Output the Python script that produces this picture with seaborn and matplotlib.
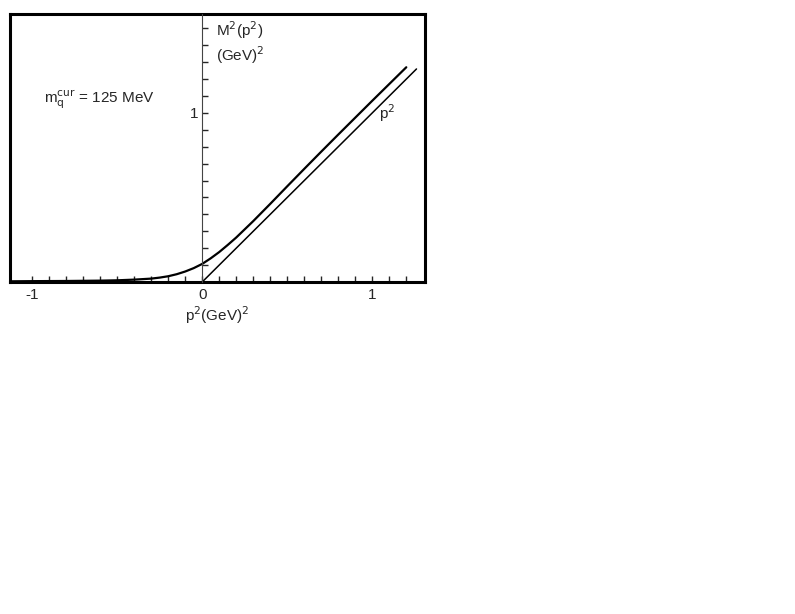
import matplotlib
matplotlib.use("Agg")
import matplotlib.pyplot as plt
import seaborn as sns
import pandas as pd
import numpy as np

# Data
p2_curve = [-1.13, -1.0, -0.8, -0.6, -0.5, -0.4, -0.3, -0.25, -0.2, -0.15, -0.1, -0.05, 0.0,
            0.05, 0.1, 0.15, 0.2, 0.3, 0.4, 0.5, 0.6, 0.7, 0.8, 0.9, 1.0, 1.1, 1.2]
M2_curve = [0.004, 0.005, 0.006, 0.008, 0.010, 0.014, 0.020, 0.026, 0.034, 0.046, 0.062, 0.082, 0.107,
            0.140, 0.177, 0.219, 0.263, 0.360, 0.462, 0.566, 0.669, 0.771, 0.872, 0.972, 1.072, 1.171, 1.27]
p2_line = [0.0, 1.26]
M2_line = [0.0, 1.26]

x_ticks = [-1, 0, 1]
x_ticklabels = ["-1", "0", "1"]

sns.set_style("white")
plt.rcParams["font.family"] = ["Liberation Sans", "DejaVu Sans"]

fig = plt.figure(figsize=(7.95, 6.14), dpi=100)
pos = [10 / 795, 1 - 282 / 614, 415 / 795, 268 / 614]
ax = fig.add_axes(pos)

df_c = pd.DataFrame({"p2": p2_curve, "M2": M2_curve})
df_l = pd.DataFrame({"p2": p2_line, "M2": M2_line})
sns.lineplot(data=df_c, x="p2", y="M2", ax=ax, color="black", lw=1.6, sort=False)
sns.lineplot(data=df_l, x="p2", y="M2", ax=ax, color="black", lw=1.1, sort=False)

xmin, xmax = -1.13, 1.31
ymin, ymax = 0.0, 1.585
ax.set_xlim(xmin, xmax)
ax.set_ylim(ymin, ymax)
for s in ax.spines.values():
    s.set_visible(True)
    s.set_color("black")
    s.set_linewidth(2.2)

ax.set_xticks(np.round(np.arange(-1.0, 1.21, 0.1), 2), minor=True)
ax.set_xticks(x_ticks)
ax.set_xticklabels(x_ticklabels)
ax.tick_params(axis="x", which="both", direction="in", length=4, width=1,
               bottom=True, top=False, labelsize=11, pad=4)
ax.set_yticks([])
ax.set_xlabel("p$^2$(GeV)$^2$", fontsize=11, labelpad=2)
ax.set_ylabel("")

# Inner y axis at p2 = 0
ax2 = fig.add_axes(pos)
ax2.set_xlim(xmin, xmax)
ax2.set_ylim(ymin, ymax)
ax2.patch.set_visible(False)
for k in ["top", "right", "bottom"]:
    ax2.spines[k].set_visible(False)
ax2.spines["left"].set_position(("data", 0))
ax2.spines["left"].set_linewidth(0.8)
ax2.spines["left"].set_color("#444444")
ax2.set_yticks(np.round(np.arange(0.1, 1.51, 0.1), 2), minor=True)
ax2.set_yticks([1])
ax2.set_yticklabels(["1"])
ax2.tick_params(axis="y", which="both", direction="in", length=4, width=1,
                left=True, labelsize=11, pad=3)
ax2.set_xticks([])
ax2.tick_params(axis="x", bottom=False, labelbottom=False)

ax2.text(0.08, 1.49, "M$^2$(p$^2$)", fontsize=11, ha="left", va="center")
ax2.text(0.08, 1.34, "(GeV)$^2$", fontsize=11, ha="left", va="center")
ax2.text(-0.93, 1.08, "m$_\\mathrm{q}^\\mathrm{cur}$ = 125 MeV", fontsize=11,
         ha="left", va="center")
ax2.text(1.09, 1.0, "p$^2$", fontsize=11, ha="center", va="center")

fig.savefig("out.png", dpi=100)
